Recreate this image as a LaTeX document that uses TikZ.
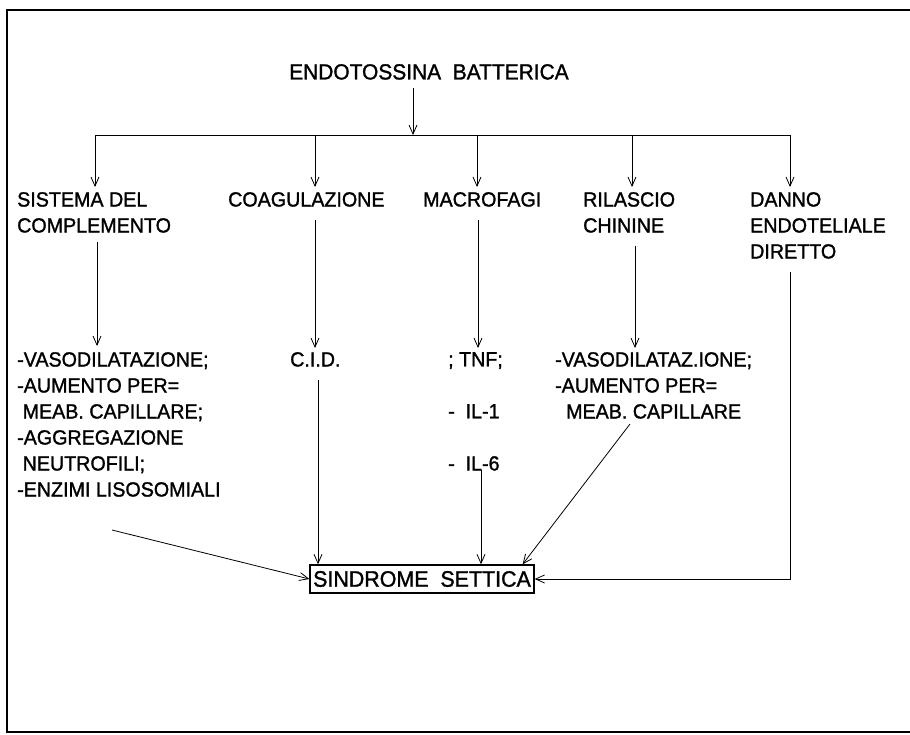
\documentclass[tikz,border=0pt]{standalone}
\usepackage{fontspec}
\setmainfont{Liberation Sans}[FakeBold=1.3,FakeStretch=0.96]
\usetikzlibrary{arrows.meta}
\begin{document}
\begin{tikzpicture}[x=1pt,y=-1pt,
  lbl/.style={anchor=north west, inner sep=0pt, align=left, font=\fontsize{20.5}{26}\selectfont},
  arr/.style={-{Straight Barb[length=9pt,width=8pt]}, line width=0.8pt},
  ln/.style={line width=0.8pt}]
\useasboundingbox (0,0) rectangle (910,735);
\coordinate (fr1) at (910,10);
\coordinate (fr2) at (7,10);
\coordinate (fr3) at (7,732);
\coordinate (fr4) at (910,732);
\draw[line width=1.8pt] (fr1) -- (fr2) -- (fr3) -- (fr4);
% title
\node[lbl, font=\fontsize{21.8}{26}\selectfont] (t) at (289,64) {ENDOTOSSINA\ \ BATTERICA};
% first row
\node[lbl] (sis) at (17,192) {SISTEMA DEL\\COMPLEMENTO};
\node[lbl] (coa) at (228,192) {COAGULAZIONE};
\node[lbl] (mac) at (423,192) {MACROFAGI};
\node[lbl] (ril) at (583,192) {RILASCIO\\CHININE};
\node[lbl] (dan) at (750,192) {DANNO\\ENDOTELIALE\\DIRETTO};
% second row
\node[lbl] (vas) at (17,352) {-VASODILATAZIONE;\\-AUMENTO PER=\\\ MEAB. CAPILLARE;\\-AGGREGAZIONE\\\ NEUTROFILI;\\-ENZIMI LISOSOMIALI};
\node[lbl] (cid) at (290,352) {C.I.D.};
\node[lbl] (tnf) at (448,352) {; TNF;};
\node[lbl] (il1) at (448,404) {- \ IL-1};
\node[lbl] (il6) at (448,456) {- \ IL-6};
\node[lbl] (vas2) at (555,352) {-VASODILATAZ.IONE;\\-AUMENTO PER=\\\ \ MEAB. CAPILLARE};
% final box
\node[draw, line width=1.6pt, inner xsep=3pt, inner ysep=6pt, font=\fontsize{22.3}{24}\selectfont] (s) at (422,579) {SINDROME\ \ SETTICA};
% coordinates
\coordinate (ttop) at (413,88);
\coordinate (tbar) at (413,135);
\coordinate (b1) at (95,135);
\coordinate (b2) at (315,135);
\coordinate (b3) at (477,135);
\coordinate (b4) at (632,135);
\coordinate (b5) at (790,135);
\coordinate (d1) at (95,187);
\coordinate (d2) at (315,187);
\coordinate (d3) at (477,187);
\coordinate (d4) at (632,187);
\coordinate (d5) at (790,187);
\coordinate (s1) at (97,242);
\coordinate (e1) at (97,346);
\coordinate (s2) at (315,220);
\coordinate (e2) at (315,348);
\coordinate (s3) at (478,220);
\coordinate (e3) at (478,348);
\coordinate (s4) at (635,246);
\coordinate (e4) at (635,348);
\coordinate (s5) at (790,272);
\coordinate (f1) at (112,530);
\coordinate (f2) at (318,380);
\coordinate (f3) at (481,470);
\coordinate (f4) at (630,424);
% connectors
\draw[arr] (ttop) -- (tbar);
\draw[ln] (b1) -- (b5);
\foreach \i in {1,...,5} {\draw[arr] (b\i) -- (d\i);}
\draw[arr] (s1) -- (e1);
\draw[arr] (s2) -- (e2);
\draw[arr] (s3) -- (e3);
\draw[arr] (s4) -- (e4);
\draw[arr] (f1) -- (s.west);
\draw[arr] (f2) -- (f2 |- s.north);
\draw[arr] (f3) -- (f3 |- s.north);
\draw[arr] (f4) -- ([xshift=-12pt]s.north east);
\draw[arr] (s5) |- (s.east);
\end{tikzpicture}
\end{document}
